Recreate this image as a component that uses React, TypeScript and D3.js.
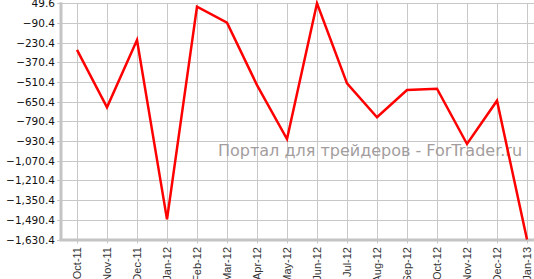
import React from "react";
import * as d3 from "d3";

const months = ["Oct-11","Nov-11","Dec-11","Jan-12","Feb-12","Mar-12","Apr-12","May-12","Jun-12","Jul-12","Aug-12","Sep-12","Oct-12","Nov-12","Dec-12","Jan-13"];
const values = [-282, -690, -211, -1487, 25.6, -88, -532, -916, 49.6, -520, -761, -567, -558, -951, -643, -1630.4];
const yTicks = [49.6, -90.4, -230.4, -370.4, -510.4, -650.4, -790.4, -930.4, -1070.4, -1210.4, -1350.4, -1490.4, -1630.4];

const W = 534, H = 279;
const left = 61, right = 534, top = 3.3, bottom = 239.5;

export default function App() {
  const x = d3.scalePoint<string>().domain(months).range([77, 527]);
  const y = d3.scaleLinear().domain([-1630.4, 49.6]).range([bottom, top]);
  const fmt = d3.format(",.1f");
  const line = d3.line<number>().x((_, i) => x(months[i])!).y(d => y(d));
  return (
    <svg width={W} height={H} style={{ position: "absolute", left: 0, top: 0, background: "#fff" }}>
      {yTicks.map(t => (
        <g key={t}>
          <line x1={left - 4} x2={right} y1={Math.round(y(t)) + 0.5} y2={Math.round(y(t)) + 0.5} stroke="#c8c8c8" strokeWidth={1} />
          <text x={55} y={Math.round(y(t)) + 4} textAnchor="end" fontFamily="DejaVu Sans" fontSize={10.5} fill="#111">{fmt(t)}</text>
        </g>
      ))}
      {months.map(m => (
        <g key={m}>
          <line x1={Math.round(x(m)!) + 0.5} x2={Math.round(x(m)!) + 0.5} y1={top} y2={bottom + 4} stroke="#c8c8c8" strokeWidth={1} />
          <text transform={`translate(${x(m)! + 4},247) rotate(-90)`} textAnchor="end" fontFamily="Liberation Sans" fontSize={11} fill="#333">{m}</text>
        </g>
      ))}
      <text x={218} y={156} fontFamily="DejaVu Sans" fontSize={16} fill="#a39d9d">Портал для трейдеров - ForTrader.ru</text>
      <line x1={left} x2={left} y1={top - 1} y2={bottom + 1.5} stroke="#c4c4c4" strokeWidth={3} />
      <line x1={left - 1.5} x2={right} y1={bottom + 0.5} y2={bottom + 0.5} stroke="#c4c4c4" strokeWidth={3} />
      <path d={line(values)!} fill="none" stroke="#ff0000" strokeWidth={2.5} strokeLinejoin="miter" />
    </svg>
  );
}
